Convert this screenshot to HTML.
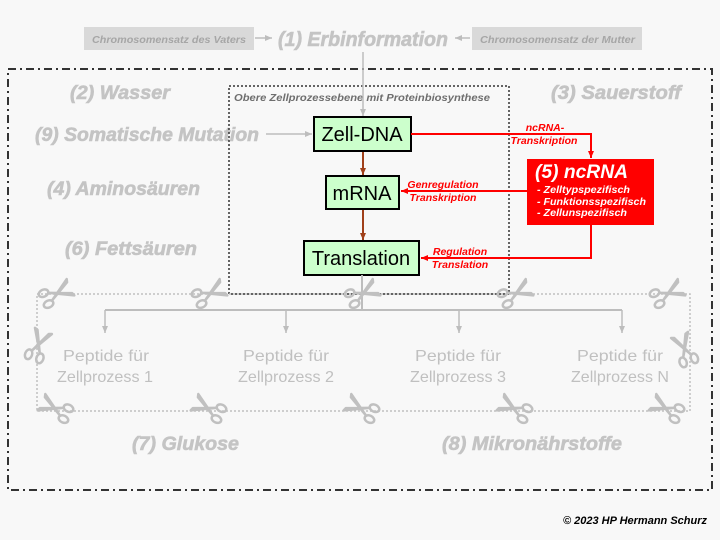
<!DOCTYPE html>
<html><head><meta charset="utf-8"><style>
html,body{margin:0;padding:0;background:#f8f8f8;}
svg{display:block;font-family:"Liberation Sans","DejaVu Sans",sans-serif;}
.g{fill:#c4c4c4;stroke:#c4c4c4;stroke-width:0.6;font-weight:bold;font-style:italic;font-size:19px;}
.r{fill:#ff0000;font-weight:bold;font-style:italic;font-size:10.5px;}
.p{fill:#c0c0c0;font-size:16px;}
.w{fill:#fff;font-weight:bold;font-style:italic;}
</style></head><body>
<svg width="720" height="540" viewBox="0 0 720 540">
<defs>
<marker id="ag" markerWidth="8" markerHeight="8" refX="7" refY="4" orient="auto" markerUnits="userSpaceOnUse"><path d="M0,1 L7,4 L0,7z" fill="#bdbdbd"/></marker>
<marker id="ab" markerWidth="8" markerHeight="8" refX="7" refY="4" orient="auto" markerUnits="userSpaceOnUse"><path d="M0,1 L7,4 L0,7z" fill="#a0401a"/></marker>
<marker id="ar" markerWidth="8" markerHeight="8" refX="7" refY="4" orient="auto" markerUnits="userSpaceOnUse"><path d="M0,1 L7,4 L0,7z" fill="#ff0000"/></marker>
<g id="sc">
<path d="M-6,4 L16,-9 L15,-6 Z M-6,-4 L16,9 L15,6 Z" fill="#c0c0c0" stroke="#c0c0c0" stroke-width="2.5" stroke-linejoin="round"/>
<ellipse cx="-11" cy="-6" rx="5" ry="3.5" fill="none" stroke="#c0c0c0" stroke-width="2.5"/>
<ellipse cx="-11" cy="6" rx="5" ry="3.5" fill="none" stroke="#c0c0c0" stroke-width="2.5"/>
</g>
</defs>
<rect width="720" height="540" fill="#f8f8f8"/>
<rect x="84" y="27" width="170" height="23" fill="#d9d9d9"/>
<text x="92" y="43" textLength="154" lengthAdjust="spacingAndGlyphs" style="fill:#a6a6a6;font-weight:bold;font-style:italic;font-size:10.5px">Chromosomensatz des Vaters</text>
<line x1="255" y1="38" x2="272" y2="38" stroke="#bdbdbd" stroke-width="1.5" marker-end="url(#ag)"/>
<text x="278" y="46" textLength="170" lengthAdjust="spacingAndGlyphs" class="g" style="font-size:20px">(1) Erbinformation</text>
<rect x="472" y="27" width="170" height="23" fill="#d9d9d9"/>
<text x="480" y="43" textLength="155" lengthAdjust="spacingAndGlyphs" style="fill:#a6a6a6;font-weight:bold;font-style:italic;font-size:10.5px">Chromosomensatz der Mutter</text>
<line x1="470" y1="38" x2="455" y2="38" stroke="#bdbdbd" stroke-width="1.5" marker-end="url(#ag)"/>
<rect x="8" y="69" width="704" height="421" fill="none" stroke="#333" stroke-width="2" stroke-dasharray="8,4,2,4"/>
<text x="70" y="99" textLength="100" lengthAdjust="spacingAndGlyphs" class="g">(2) Wasser</text>
<text x="551" y="99" textLength="130" lengthAdjust="spacingAndGlyphs" class="g">(3) Sauerstoff</text>
<text x="35" y="141" textLength="224" lengthAdjust="spacingAndGlyphs" class="g">(9) Somatische Mutation</text>
<line x1="266" y1="134" x2="312" y2="134" stroke="#bdbdbd" stroke-width="1.5" marker-end="url(#ag)"/>
<text x="47" y="195" textLength="153" lengthAdjust="spacingAndGlyphs" class="g">(4) Aminosäuren</text>
<text x="65" y="255" textLength="132" lengthAdjust="spacingAndGlyphs" class="g">(6) Fettsäuren</text>
<text x="132" y="450" textLength="107" lengthAdjust="spacingAndGlyphs" class="g">(7) Glukose</text>
<text x="442" y="450" textLength="180" lengthAdjust="spacingAndGlyphs" class="g">(8) Mikronährstoffe</text>
<rect x="229" y="86" width="280" height="208" fill="none" stroke="#333" stroke-width="1.5" stroke-dasharray="2,2"/>
<text x="234" y="101" textLength="256" lengthAdjust="spacingAndGlyphs" style="fill:#6e6e6e;font-weight:bold;font-style:italic;font-size:10px">Obere Zellprozessebene  mit  Proteinbiosynthese</text>
<line x1="363" y1="52" x2="363" y2="116" stroke="#bdbdbd" stroke-width="1.5" marker-end="url(#ag)"/>
<rect x="314" y="117" width="97" height="34" fill="#ccffcc" stroke="#000" stroke-width="2"/>
<text x="362" y="141" text-anchor="middle" font-size="20">Zell-DNA</text>
<rect x="326" y="176" width="73" height="33" fill="#ccffcc" stroke="#000" stroke-width="2"/>
<text x="362" y="200" text-anchor="middle" font-size="20">mRNA</text>
<rect x="304" y="241" width="115" height="34" fill="#ccffcc" stroke="#000" stroke-width="2"/>
<text x="361" y="265" text-anchor="middle" font-size="20">Translation</text>
<line x1="363" y1="152" x2="363" y2="175" stroke="#a0401a" stroke-width="2" marker-end="url(#ab)"/>
<line x1="363" y1="210" x2="363" y2="240" stroke="#a0401a" stroke-width="2" marker-end="url(#ab)"/>
<rect x="527" y="159" width="127" height="66" fill="#ff0000"/>
<text x="535" y="178" textLength="93" lengthAdjust="spacingAndGlyphs" class="w" style="font-size:19px">(5) ncRNA</text>
<text x="537" y="193" textLength="93" lengthAdjust="spacingAndGlyphs" class="w" style="font-size:10.5px">- Zelltypspezifisch</text>
<text x="537" y="205" textLength="109" lengthAdjust="spacingAndGlyphs" class="w" style="font-size:10.5px">- Funktionsspezifisch</text>
<text x="537" y="216" textLength="90" lengthAdjust="spacingAndGlyphs" class="w" style="font-size:10.5px">- Zellunspezifisch</text>
<polyline points="411,134 591,134 591,158" fill="none" stroke="#ff0000" stroke-width="2" marker-end="url(#ar)"/>
<text x="545" y="131" text-anchor="middle" class="r">ncRNA-</text>
<text x="544" y="144" text-anchor="middle" class="r">Transkription</text>
<line x1="527" y1="191" x2="401" y2="191" stroke="#ff0000" stroke-width="2" marker-end="url(#ar)"/>
<text x="443" y="188" text-anchor="middle" class="r">Genregulation</text>
<text x="443" y="201" text-anchor="middle" class="r">Transkription</text>
<polyline points="591,225 591,258 421,258" fill="none" stroke="#ff0000" stroke-width="2" marker-end="url(#ar)"/>
<text x="460" y="255" text-anchor="middle" class="r">Regulation</text>
<text x="460" y="268" text-anchor="middle" class="r">Translation</text>
<rect x="37" y="294" width="653" height="117" fill="none" stroke="#c0c0c0" stroke-width="1.5" stroke-dasharray="2,2"/>
<line x1="362" y1="275" x2="362" y2="310" stroke="#bdbdbd" stroke-width="2"/>
<line x1="105" y1="310" x2="622" y2="310" stroke="#bdbdbd" stroke-width="2"/>
<line x1="105" y1="310" x2="105" y2="333" stroke="#bdbdbd" stroke-width="1.5" marker-end="url(#ag)"/>
<line x1="286" y1="310" x2="286" y2="333" stroke="#bdbdbd" stroke-width="1.5" marker-end="url(#ag)"/>
<line x1="459" y1="310" x2="459" y2="333" stroke="#bdbdbd" stroke-width="1.5" marker-end="url(#ag)"/>
<line x1="622" y1="310" x2="622" y2="333" stroke="#bdbdbd" stroke-width="1.5" marker-end="url(#ag)"/>
<g class="p" text-anchor="middle">
<text x="106" y="361" textLength="86" lengthAdjust="spacingAndGlyphs">Peptide für</text>
<text x="105" y="382" textLength="96" lengthAdjust="spacingAndGlyphs">Zellprozess 1</text>
<text x="286" y="361" textLength="86" lengthAdjust="spacingAndGlyphs">Peptide für</text>
<text x="286" y="382" textLength="96" lengthAdjust="spacingAndGlyphs">Zellprozess 2</text>
<text x="458" y="361" textLength="86" lengthAdjust="spacingAndGlyphs">Peptide für</text>
<text x="458" y="382" textLength="96" lengthAdjust="spacingAndGlyphs">Zellprozess 3</text>
<text x="620" y="361" textLength="86" lengthAdjust="spacingAndGlyphs">Peptide für</text>
<text x="620" y="382" textLength="98" lengthAdjust="spacingAndGlyphs">Zellprozess N</text>
</g>
<use href="#sc" transform="translate(56,294) rotate(-25)"/>
<use href="#sc" transform="translate(209,294) rotate(-25)"/>
<use href="#sc" transform="translate(362,294) rotate(-25)"/>
<use href="#sc" transform="translate(515,294) rotate(-25)"/>
<use href="#sc" transform="translate(667,294) rotate(-25)"/>
<use href="#sc" transform="translate(56,409) rotate(205)"/>
<use href="#sc" transform="translate(209,409) rotate(205)"/>
<use href="#sc" transform="translate(362,409) rotate(205)"/>
<use href="#sc" transform="translate(515,409) rotate(205)"/>
<use href="#sc" transform="translate(667,409) rotate(205)"/>
<use href="#sc" transform="translate(38,346) rotate(-70)"/>
<use href="#sc" transform="translate(685,350) rotate(-110)"/>
<text x="707" y="524" text-anchor="end" style="fill:#000;font-weight:bold;font-style:italic;font-size:11px">© 2023 HP Hermann Schurz</text>
</svg>
</body></html>
